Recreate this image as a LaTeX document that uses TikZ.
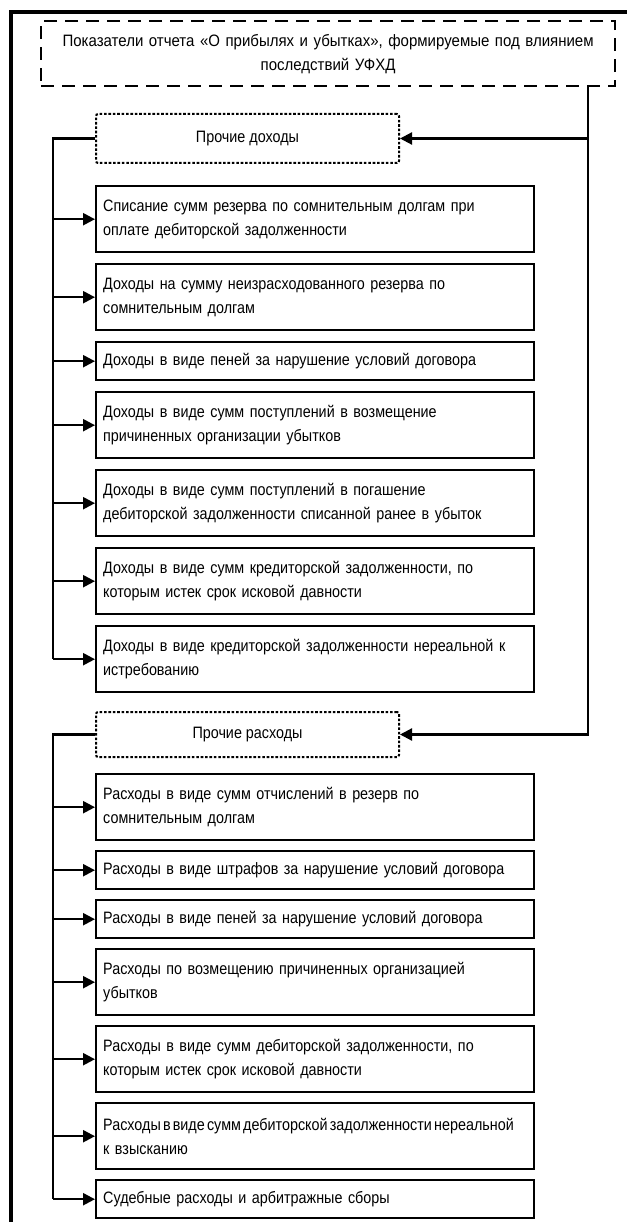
\documentclass[tikz,border=0pt]{standalone}
\usepackage{fontspec}
\setmainfont{Liberation Sans}[FakeStretch=0.87]
\newfontfamily\titlefamily{Liberation Sans}[FakeStretch=0.91]
\usetikzlibrary{arrows.meta}
\newcommand\boxfont{\fontsize{16.5}{24}\selectfont}
\newcommand\headfont{\titlefamily\fontsize{16.5}{24}\selectfont}
\begin{document}
\begin{tikzpicture}[x=1pt,y=-1pt,
  itembox/.style={draw, line width=2.4pt, rectangle, anchor=north west,
    text width=424pt, inner xsep=7pt, inner ysep=0pt, align=left, font=\boxfont},
  tall/.style={minimum height=66pt},
  short/.style={minimum height=38pt},
  groupbox/.style={draw, line width=2pt, dash pattern=on 2.6pt off 1.8pt,
    rounded corners=2pt, rectangle, anchor=north west, minimum width=303pt,
    minimum height=49pt, inner sep=0pt, font=\boxfont},
  titlebox/.style={draw, line width=2.2pt, dash pattern=on 13pt off 8pt,
    rectangle, anchor=north west, minimum width=574pt, minimum height=65pt,
    text width=560pt, align=center, inner sep=0pt, font=\headfont},
  conn/.style={line width=2.2pt},
  arr/.style={line width=2.2pt, -{Triangle[length=12pt,width=12pt]}}
]
\useasboundingbox (0,0) rectangle (627,1222);
\draw[line width=3.8pt] (11,1222) -- (11,12) -- (627,12);

\node[titlebox] (title) at (40,20) {Показатели отчета «О прибылях и убытках», формируемые под влиянием\\последствий УФХД};

\node[groupbox] (pd) at (95,113) {Прочие доходы};
\node[itembox,tall] (d1) at (95,185) {Списание сумм резерва по сомнительным долгам при\\оплате дебиторской задолженности};
\node[itembox,tall] (d2) at (95,263) {Доходы на сумму неизрасходованного резерва по\\сомнительным долгам};
\node[itembox,short] (d3) at (95,341) {Доходы в виде пеней за нарушение условий договора};
\node[itembox,tall] (d4) at (95,391) {Доходы в виде сумм поступлений в возмещение\\причиненных организации убытков};
\node[itembox,tall] (d5) at (95,469) {Доходы в виде сумм поступлений в погашение\\дебиторской задолженности списанной ранее в убыток};
\node[itembox,tall] (d6) at (95,547) {Доходы в виде сумм кредиторской задолженности, по\\которым истек срок исковой давности};
\node[itembox,tall] (d7) at (95,625) {Доходы в виде кредиторской задолженности нереальной к\\истребованию};

\node[groupbox,minimum height=45pt] (pr) at (95,711) {Прочие расходы};
\node[itembox,tall] (r1) at (95,773) {Расходы в виде сумм отчислений в резерв по\\сомнительным долгам};
\node[itembox,short] (r2) at (95,850) {Расходы в виде штрафов за нарушение условий договора};
\node[itembox,short] (r3) at (95,899) {Расходы в виде пеней за нарушение условий договора};
\node[itembox,tall] (r4) at (95,948) {Расходы по возмещению причиненных организацией\\убытков};
\node[itembox,tall] (r5) at (95,1025) {Расходы в виде сумм дебиторской задолженности, по\\которым истек срок исковой давности};
\node[itembox,tall] (r6) at (95,1102) {\mbox{\spaceskip=2.2pt Расходы в виде сумм дебиторской задолженности нереальной}\\к взысканию};
\node[itembox,short] (r7) at (95,1179) {Судебные расходы и арбитражные сборы};

\coordinate (tx) at (53,0);
\coordinate (rx) at (588,0);

\draw[conn] (pd.west) -- (pd.west -| tx) -- (d7.west -| tx);
\foreach \n in {d1,d2,d3,d4,d5,d6,d7}
  \draw[arr] (\n.west -| tx) -- (\n.west);
\draw[conn] (pr.west) -- (pr.west -| tx) -- (r7.west -| tx);
\foreach \n in {r1,r2,r3,r4,r5,r6,r7}
  \draw[arr] (\n.west -| tx) -- (\n.west);

\draw[arr] (title.south -| rx) -- (pr.east -| rx) -- (pr.east);
\draw[arr] (pd.east -| rx) -- (pd.east);
\end{tikzpicture}
\end{document}
